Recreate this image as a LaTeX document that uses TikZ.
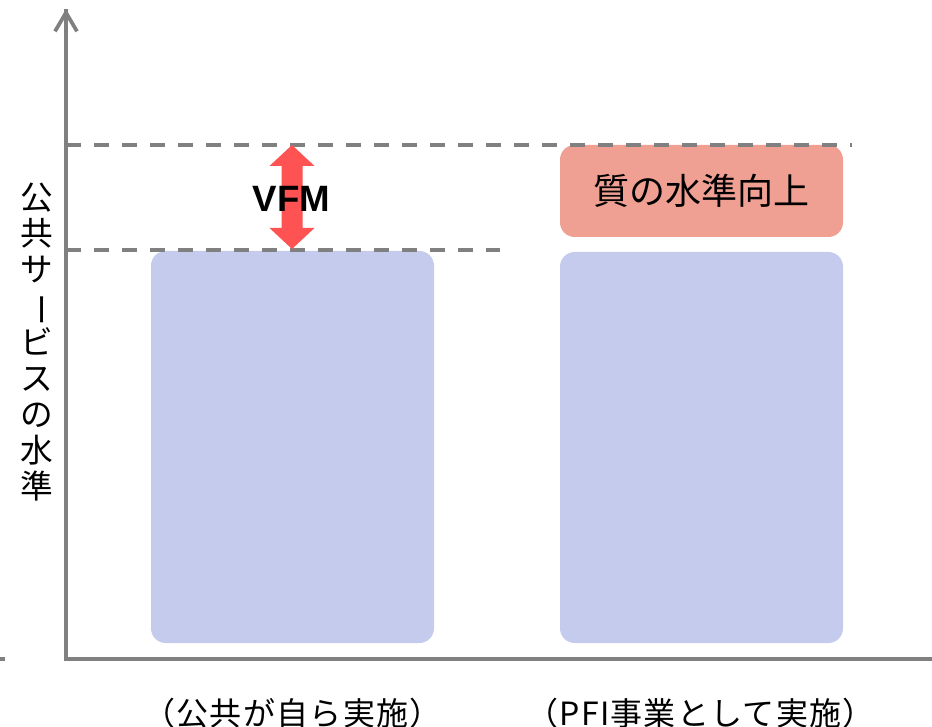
\documentclass[tikz,border=0pt]{standalone}
\usepackage{fontspec}
\setmainfont{Liberation Sans}
\newfontfamily\jp{Noto Sans CJK JP}
\newfontfamily\jpsp{Noto Sans CJK JP}[LetterSpace=4]
\usetikzlibrary{arrows.meta}
\definecolor{axisgray}{HTML}{808080}
\definecolor{barblue}{HTML}{C5CBED}
\definecolor{pinkbox}{HTML}{EFA092}
\definecolor{vfmred}{HTML}{FF5252}
\begin{document}
\begin{tikzpicture}[x=0.75pt,y=-0.75pt,
  axisline/.style={draw=axisgray, line width=2.8pt},
  levelline/.style={draw=axisgray, line width=3pt, dash pattern=on 11.25pt off 9.75pt},
  barbox/.style={fill=barblue, rounded corners=11pt, inner sep=0pt, minimum width=212.25pt},
  qualitybox/.style={fill=pinkbox, rounded corners=11pt, inner sep=0pt, minimum width=212.25pt, minimum height=69pt,
     font=\jp\fontsize{27}{27}\selectfont},
  caption/.style={font=\jpsp\fontsize{24}{24}\selectfont, inner sep=0pt},
  ylabel/.style={font=\jp\fontsize{24.5}{27}\selectfont, align=center, inner sep=0pt},
  vfmlabel/.style={font=\bfseries\fontsize{27.5}{27.5}\selectfont, inner sep=0pt}
]
\useasboundingbox (0,0) rectangle (932,727);

% coordinates
\coordinate (origin) at (66,659);
\coordinate (ytop) at (66,9);
\coordinate (xend) at (932,659);
\coordinate (tickL) at (0,659);
\coordinate (tickR) at (5,659);
\coordinate (topA) at (66,145);
\coordinate (topB) at (852,145);
\coordinate (lowA) at (66,250);
\coordinate (lowB) at (500,250);

% bars
\node[barbox, minimum height=294pt] (pub) at (292.5,447) {};
\node[barbox, minimum height=293.25pt] (pfi) at (701.5,447.5) {};
\node[qualitybox] (quality) at (701.5,191) {質の水準向上};

% level lines
\draw[levelline] (topA) -- (topB);
\draw[levelline] (lowA) -- (lowB);

% axes
\draw[axisline] (tickL) -- (tickR);
\draw[axisline] (xend) -- (origin) -- (ytop);
\draw[axisline, -{Straight Barb[length=14pt,width=16.5pt,line width=2.8pt]}] (origin) -- (ytop);

% VFM arrow
\fill[vfmred] (292,145) -- (314.5,166) -- (302.5,166) -- (302.5,228) -- (314.5,228) -- (292,249)
  -- (269.5,228) -- (281.5,228) -- (281.5,166) -- (269.5,166) -- cycle;
\node[vfmlabel] (vfm) at (291.5,199) {VFM};

% labels
\node[ylabel] (ylab) at (37,342) {公\\共\\サ\\\rotatebox[origin=c]{-90}{ー}\\ビ\\ス\\の\\水\\準};
\node[caption] (cap1) at (292.5,713) {（公共が自ら実施）};
\node[caption] (cap2) at (700.5,713) {（PFI事業として実施）};
\end{tikzpicture}
\end{document}
